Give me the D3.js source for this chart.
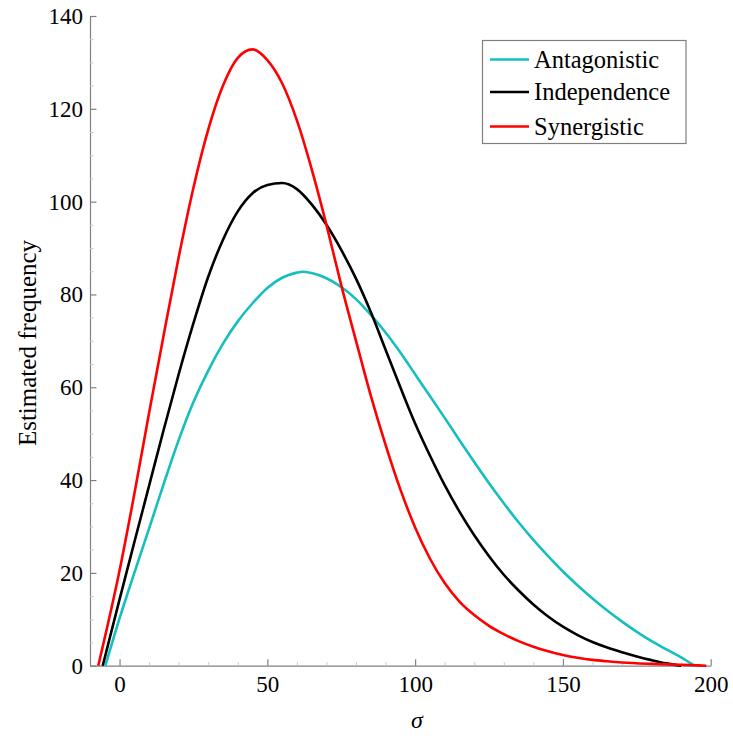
<!DOCTYPE html>
<html>
<head>
<meta charset="utf-8">
<script src="https://cdn.jsdelivr.net/npm/d3@7"></script>
<style>
  html, body { margin: 0; padding: 0; background: #fff; }
  svg { display: block; }
  svg text { font-family: "Liberation Serif", "DejaVu Serif", serif; }
</style>
</head>
<body>
<svg id="chart" width="733" height="736"></svg>
<script>
// ---- Data ----
const seriesNames = ["Antagonistic", "Independence", "Synergistic"];
const seriesColors = ["#17bebe", "#000000", "#ff0000"];

const antagonisticX = [-4.8, 0, 5, 10, 15, 20, 25, 30, 35, 40, 45, 50, 55, 60, 62, 65, 70, 75, 80, 85, 90, 95, 100, 105, 110, 115, 120, 125, 130, 135, 140, 145, 150, 155, 160, 165, 170, 175, 180, 185, 190, 194.5];
const antagonisticY = [0, 10.2, 20, 29.6, 39.3, 48.6, 56.8, 63.6, 69.4, 74.2, 78.1, 81.4, 83.6, 84.7, 84.9, 84.6, 83.5, 81.6, 79, 75.6, 71.8, 67.5, 62.8, 58.1, 53.4, 48.6, 43.9, 39.3, 35, 30.9, 27.1, 23.6, 20.3, 17.3, 14.5, 11.9, 9.5, 7.3, 5.3, 3.5, 1.8, 0];

const independenceX = [-5.7, 0, 5, 10, 15, 20, 25, 30, 35, 40, 45, 50, 55, 60, 65, 70, 75, 80, 85, 90, 95, 100, 105, 110, 115, 120, 125, 130, 135, 140, 145, 150, 155, 160, 165, 170, 175, 180, 185, 190];
const independenceY = [0, 14.3, 26.6, 38.8, 51, 62.8, 73.8, 83.8, 91.8, 97.9, 101.8, 103.6, 104, 102.7, 99.4, 95, 89.6, 83.4, 76.2, 68.1, 60, 52.2, 45.3, 38.9, 33.2, 28.1, 23.6, 19.6, 16.2, 13.2, 10.6, 8.4, 6.6, 5.1, 3.9, 2.9, 2, 1.2, 0.5, 0];

const synergisticX = [-7.2, 0, 5, 10, 15, 20, 25, 30, 35, 40, 45, 50, 55, 60, 65, 70, 75, 80, 85, 90, 95, 100, 105, 110, 115, 120, 125, 130, 135, 140, 145, 150, 155, 160, 165, 170, 180, 190, 198.5];
const synergisticY = [0, 20.5, 37, 54.5, 71.5, 88, 103, 115.5, 125, 131, 132.8, 130.5, 125.5, 117.5, 107, 95, 82, 70, 58.2, 47.6, 38, 29.8, 23.1, 17.8, 13.8, 10.9, 8.6, 6.8, 5.3, 4.1, 3.1, 2.3, 1.7, 1.25, 0.95, 0.7, 0.4, 0.2, 0];

const xTicks = [0, 50, 100, 150, 200];
const yTicks = [0, 20, 40, 60, 80, 100, 120, 140];
const xLabel = "σ";
const yLabel = "Estimated frequency";

// ---- Layout ----
const svg = d3.select("#chart");
const plotLeft = 90, plotRight = 710.7, plotTop = 16, plotBottom = 665.7;
const x = d3.scaleLinear().domain([-10, 200]).range([plotLeft, plotRight]);
const y = d3.scaleLinear().domain([0, 140]).range([plotBottom, plotTop]);
const font = '"Liberation Serif", "DejaVu Serif", serif';
const axisColor = "#808080";

const seriesData = [
  antagonisticX.map((v, i) => [v, antagonisticY[i]]),
  independenceX.map((v, i) => [v, independenceY[i]]),
  synergisticX.map((v, i) => [v, synergisticY[i]])
];

// minor ticks
const xMinor = d3.range(-10, 201, 10).filter(v => !xTicks.includes(v));
const yMinor = d3.range(0, 141, 5).filter(v => !yTicks.includes(v));

function styleText(sel, size) {
  sel.style("font-family", font).style("font-size", size + "px").attr("fill", "#000");
}

// x axis
const xAxis = d3.axisBottom(x).tickValues(xTicks).tickSizeInner(-6.5).tickSizeOuter(0).tickPadding(10);
const gx = svg.append("g").attr("transform", `translate(0,${plotBottom})`).call(xAxis);
gx.attr("font-family", null);
gx.select(".domain").attr("stroke", axisColor).attr("stroke-width", 1.2);
gx.selectAll(".tick line").attr("stroke", axisColor).attr("stroke-width", 1.2);
styleText(gx.selectAll(".tick text"), 23);

const gxm = svg.append("g").attr("transform", `translate(0,${plotBottom})`)
  .call(d3.axisBottom(x).tickValues(xMinor).tickSizeInner(-3.5).tickSizeOuter(0).tickFormat(""));
gxm.select(".domain").remove();
gxm.selectAll(".tick line").attr("stroke", "#c8c8c8").attr("stroke-width", 1);

// y axis
const yAxis = d3.axisLeft(y).tickValues(yTicks).tickSizeInner(-6.5).tickSizeOuter(0).tickPadding(7);
const gy = svg.append("g").attr("transform", `translate(${plotLeft},0)`).call(yAxis);
gy.attr("font-family", null);
gy.select(".domain").attr("stroke", axisColor).attr("stroke-width", 1.2);
gy.selectAll(".tick line").attr("stroke", axisColor).attr("stroke-width", 1.2);
styleText(gy.selectAll(".tick text"), 23);

const gym = svg.append("g").attr("transform", `translate(${plotLeft},0)`)
  .call(d3.axisLeft(y).tickValues(yMinor).tickSizeInner(-3.5).tickSizeOuter(0).tickFormat(""));
gym.select(".domain").remove();
gym.selectAll(".tick line").attr("stroke", "#c8c8c8").attr("stroke-width", 1);

// lines
const line = d3.line().x(d => x(d[0])).y(d => y(d[1])).curve(d3.curveMonotoneX);
svg.append("g").selectAll("path").data(seriesData).join("path")
  .attr("d", line)
  .attr("fill", "none")
  .attr("stroke", (d, i) => seriesColors[i])
  .attr("stroke-width", 2.6)
  .attr("stroke-linejoin", "round");

// axis labels
styleText(svg.append("text")
  .attr("x", 417).attr("y", 728)
  .attr("text-anchor", "middle")
  .style("font-style", "italic")
  .text(xLabel), 24);

styleText(svg.append("text")
  .attr("transform", `translate(36,343) rotate(-90)`)
  .attr("text-anchor", "middle")
  .text(yLabel), 25);

// legend
const lg = svg.append("g");
lg.append("rect")
  .attr("x", 482.5).attr("y", 40.5).attr("width", 203.5).attr("height", 103)
  .attr("fill", "#fff").attr("stroke", axisColor).attr("stroke-width", 1.2);
const rowY = [59.5, 92, 126.5];
seriesNames.forEach((name, i) => {
  lg.append("line")
    .attr("x1", 490).attr("x2", 529).attr("y1", rowY[i]).attr("y2", rowY[i])
    .attr("stroke", seriesColors[i]).attr("stroke-width", 2.6);
  styleText(lg.append("text")
    .attr("x", 534).attr("y", rowY[i]).attr("dy", "0.33em")
    .text(name), 24.5);
});
</script>
</body>
</html>
